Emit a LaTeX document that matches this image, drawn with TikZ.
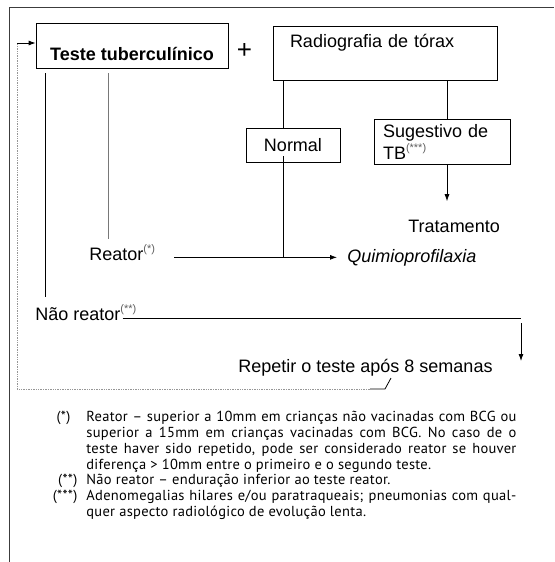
\documentclass[tikz,border=0pt]{standalone}
\usepackage{fontspec}
\setmainfont{Liberation Sans}
\newfontfamily\notefont[LetterSpace=2]{PT Sans}
\usetikzlibrary{positioning}
\usetikzlibrary{calc}
\usetikzlibrary{arrows.meta}
\definecolor{framegray}{RGB}{60,60,60}
\definecolor{supgray}{RGB}{95,95,95}
\definecolor{linegray}{RGB}{120,120,120}
\definecolor{backgray}{RGB}{150,150,150}
\newcommand{\supmark}[1]{\raisebox{7.5pt}{\fontsize{11}{11}\selectfont\textcolor{supgray}{#1}}}

\begin{document}
\begin{tikzpicture}[x=1pt, y=-1pt, line width=0.8pt, >={Latex[length=7pt,width=5pt]},
  flowbox/.style={draw, rectangle, inner sep=0pt, font=\fontsize{18}{22}\selectfont},
  txt/.style={anchor=base west, inner sep=0pt, font=\fontsize{18}{22}\selectfont},
  backline/.style={backgray, densely dotted, line width=0.7pt}]
    \useasboundingbox (0,0) rectangle (554,562);

    % frame
    \draw[framegray, line width=1pt] (9.5,562) -- (9.5,7.5) -- (554,7.5);

    % draw boxes
    \node[flowbox, minimum width=192pt, minimum height=45pt, font=\bfseries\fontsize{18}{22}\selectfont,
      text height=29pt, text depth=0pt] (teste) at (132,45.5) {Teste tuberculínico\hspace{8pt}};
    \node[inner sep=0pt, font=\fontsize{26}{26}\selectfont] (plus) at (244.5,51) {+};
    \node[flowbox, minimum width=224pt, minimum height=54pt, text width=190pt, inner xsep=17pt,
      align=left, text height=13pt, text depth=25pt] (radio) at (385,53) {Radiografia de tórax};
    \node[flowbox, minimum width=94pt, minimum height=34pt] (normal) at (293,145) {Normal};
    \node[flowbox, minimum width=136pt, minimum height=45pt, text width=118pt, inner xsep=9pt,
      align=left] (sug) at (442,141.5) {Sugestivo de\\TB\supmark{(***)}};

    % draw texts
    \node[txt] (trat) at (408,232) {Tratamento};
    \node[txt, font=\itshape\fontsize{18}{22}\selectfont] (quimio) at (347,262) {Quimioprofilaxia};
    \node[txt] (reator) at (89,260) {Reator\supmark{(*)}};
    \node[txt] (naoreator) at (35,320) {Não reator\supmark{(**)}};
    \node[txt] (repetir) at (238,372) {Repetir o teste após 8 semanas};

    % helper coordinates
    \coordinate (naox) at (45,0);
    \coordinate (reatx) at (108,0);
    \coordinate (normx) at (283,0);
    \coordinate (sugx) at (447,0);
    \coordinate (naoline) at ([xshift=-14pt]naoreator.base east);
    \coordinate (turn) at (521,318);
    \coordinate (repend) at (521,361);
    \coordinate (hook) at (391,378);
    \coordinate (hookbase) at (385,389);
    \coordinate (dotstart) at (370,389);
    \coordinate (backcorner) at (17,389);
    \coordinate (backtop) at (17,43);

    % draw lines
    \draw[shorten <=5pt, shorten >=7pt] (teste.south -| naox) -- (naoreator.north -| naox);
    \draw[linegray, shorten <=5pt, shorten >=5pt] (teste.south -| reatx) -- (reator.north -| reatx);
    \draw (radio.south -| normx) -- (normal.north -| normx);
    \draw (radio.south -| sugx) -- (sug.north -| sugx);
    \draw[->, shorten >=18pt] (sug.south -| sugx) -- (trat.north -| sugx);
    \draw[shorten <=-6pt] (normal.south -| normx) -- (normx |- quimio.west);
    \draw[->, shorten <=19pt, shorten >=10pt] (reator.east |- quimio.west) -- (quimio.west);
    \draw (naoline |- turn) -- (turn);
    \draw[->, shorten <=5pt] (turn) -- (repend);

    % repeat loop
    \draw (hook) -- (hookbase) -- (dotstart);
    \draw[backline] (dotstart) -- (backcorner) -- (backtop);
    \draw[->] (backtop) -- (backtop -| teste.west);

    % notes
    \node[anchor=north west, inner sep=0pt, text width=430pt, align=justify,
      font=\notefont\fontsize{14.5}{15.8}\selectfont] (notes) at (86,411) {\parindent=0pt
      \leavevmode\llap{(*)\hspace{16pt}}Reator – superior a 10mm em crianças não vacinadas com BCG ou\linebreak
      superior a 15mm em crianças vacinadas com BCG. No caso de o\linebreak
      teste haver sido repetido, pode ser considerado reator se houver\linebreak
      diferença > 10mm entre o primeiro e o segundo teste.\par
      \leavevmode\llap{(**)\hspace{9pt}}Não reator – enduração inferior ao teste reator.\par
      \leavevmode\llap{(***)\hspace{9pt}}Adenomegalias hilares e/ou paratraqueais; pneumonias com qual-\linebreak
      quer aspecto radiológico de evolução lenta.};
\end{tikzpicture}
\end{document}
